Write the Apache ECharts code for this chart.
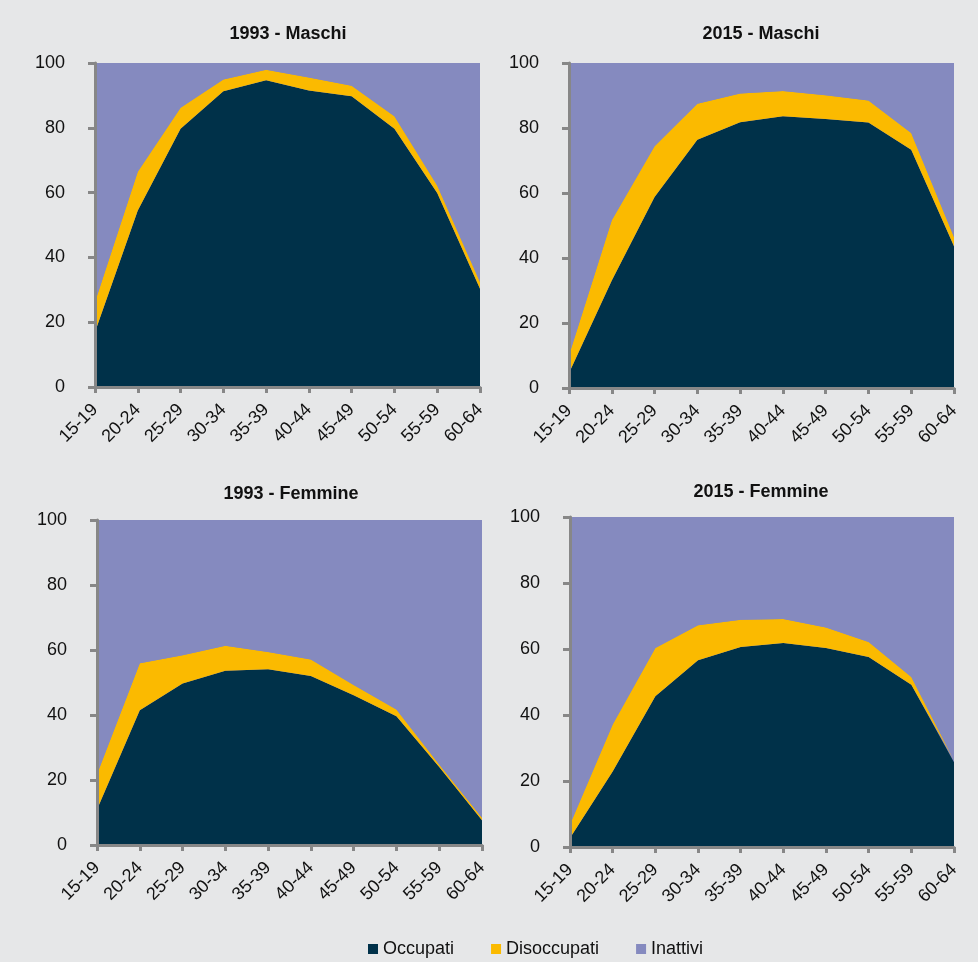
<!DOCTYPE html>
<html>
<head>
<meta charset="utf-8">
<script src="https://cdn.jsdelivr.net/npm/echarts@6/dist/echarts.min.js"></script>
<style>
html,body{margin:0;padding:0;background:#e6e7e8;}
#chart{width:978px;height:962px;}
</style>
</head>
<body>
<div id="chart"></div>
<script>
var categories = ['15-19','20-24','25-29','30-34','35-39','40-44','45-49','50-54','55-59','60-64'];
var yTicks = [0, 20, 40, 60, 80, 100];
var seriesNames = ['Occupati', 'Disoccupati', 'Inattivi'];
var panelTitles = ['1993 - Maschi', '2015 - Maschi', '1993 - Femmine', '2015 - Femmine'];

var m1993Occupati    = [17.0, 54.5, 79.7, 91.3, 94.7, 91.5, 89.7, 79.7, 59.9, 30.3];
var m1993Disoccupati = [9.2, 11.9, 6.5, 3.6, 3.2, 4.0, 3.3, 3.9, 2.3, 2.1];
var m1993Inattivi    = [73.8, 33.6, 13.8, 5.1, 2.1, 4.5, 7.0, 16.4, 37.8, 67.6];

var m2015Occupati    = [4.6, 33.1, 58.8, 76.4, 81.8, 83.6, 82.8, 81.7, 73.3, 43.6];
var m2015Disoccupati = [5.5, 18.5, 15.6, 11.1, 8.8, 7.8, 7.3, 6.8, 5.2, 2.9];
var m2015Inattivi    = [89.9, 48.4, 25.6, 12.5, 9.4, 8.6, 9.9, 11.5, 21.5, 53.5];

var f1993Occupati    = [10.9, 41.5, 49.7, 53.6, 54.1, 52.0, 46.1, 39.6, 24.0, 7.6];
var f1993Disoccupati = [10.9, 14.4, 8.7, 7.7, 5.3, 5.1, 3.1, 2.1, 0.8, 0.8];
var f1993Inattivi    = [78.2, 44.1, 41.6, 38.7, 40.6, 42.9, 50.8, 58.3, 75.2, 91.6];

var f2015Occupati    = [2.7, 22.9, 45.7, 56.6, 60.6, 61.8, 60.3, 57.6, 49.2, 25.7];
var f2015Disoccupati = [4.1, 14.2, 14.6, 10.6, 8.3, 7.3, 6.2, 4.5, 2.3, 0.6];
var f2015Inattivi    = [93.2, 62.9, 39.7, 32.8, 31.1, 30.9, 33.5, 37.9, 48.5, 73.7];

var panels = [
  [m1993Occupati, m1993Disoccupati, m1993Inattivi],
  [m2015Occupati, m2015Disoccupati, m2015Inattivi],
  [f1993Occupati, f1993Disoccupati, f1993Inattivi],
  [f2015Occupati, f2015Disoccupati, f2015Inattivi]
];

var colors = ['#003149', '#fbba00', '#858abf'];
var FONT = 'Liberation Sans, Arial, sans-serif';
var axisColor = '#878787';

var grids = [
  {left: 95, top: 63, width: 385, height: 324},
  {left: 569, top: 63, width: 385, height: 325},
  {left: 97, top: 520, width: 385, height: 325},
  {left: 570, top: 517, width: 384, height: 330}
];
var titlePos = [[288, 34], [761, 34], [291, 494], [761, 492]];

var xAxes = [], yAxes = [], series = [], graphics = [];
grids.forEach(function (g, i) {
  g.backgroundColor = colors[2];
  g.show = true;
  g.borderWidth = 0;
  xAxes.push({
    type: 'category', gridIndex: i, data: categories, boundaryGap: false, z: 10,
    axisLine: {lineStyle: {color: axisColor, width: 3}},
    axisTick: {show: true, length: 6, alignWithLabel: true, lineStyle: {color: axisColor, width: 3}},
    axisLabel: {rotate: 45, margin: 20, fontSize: 18, fontFamily: FONT, color: '#111', interval: 0, padding: [0, 0, 0, 0]},
    splitLine: {show: false}
  });
  yAxes.push({
    type: 'value', gridIndex: i, min: yTicks[0], max: yTicks[yTicks.length - 1], interval: 20, z: 10,
    axisLine: {show: true, lineStyle: {color: axisColor, width: 3}},
    axisTick: {show: true, length: 7, lineStyle: {color: axisColor, width: 3}},
    axisLabel: {margin: 30, fontSize: 18, fontFamily: FONT, color: '#111'},
    splitLine: {show: false}
  });
  panels[i].forEach(function (arr, k) {
    series.push({
      name: seriesNames[k], type: 'line', xAxisIndex: i, yAxisIndex: i,
      stack: 'p' + i, data: arr, showSymbol: false, symbol: 'none',
      lineStyle: {width: 0}, areaStyle: {color: colors[k], opacity: 1},
      itemStyle: {color: colors[k]}, color: colors[k], silent: true, animation: false
    });
  });
  graphics.push({
    type: 'text', x: titlePos[i][0], y: titlePos[i][1],
    style: {text: panelTitles[i], font: 'bold 18px ' + FONT, fill: '#111',
            align: 'center', verticalAlign: 'middle', textAlign: 'center', textVerticalAlign: 'middle'}
  });
});

var chart = echarts.init(document.getElementById('chart'));
chart.setOption({
  backgroundColor: '#e6e7e8',
  animation: false,
  grid: grids,
  xAxis: xAxes,
  yAxis: yAxes,
  series: series,
  graphic: graphics,
  legend: {
    data: seriesNames, left: 363, top: 935, icon: 'rect',
    itemWidth: 10, itemHeight: 10, itemGap: 37,
    textStyle: {fontSize: 18, fontFamily: FONT, color: '#111'},
    selectedMode: false
  }
});
</script>
</body>
</html>
